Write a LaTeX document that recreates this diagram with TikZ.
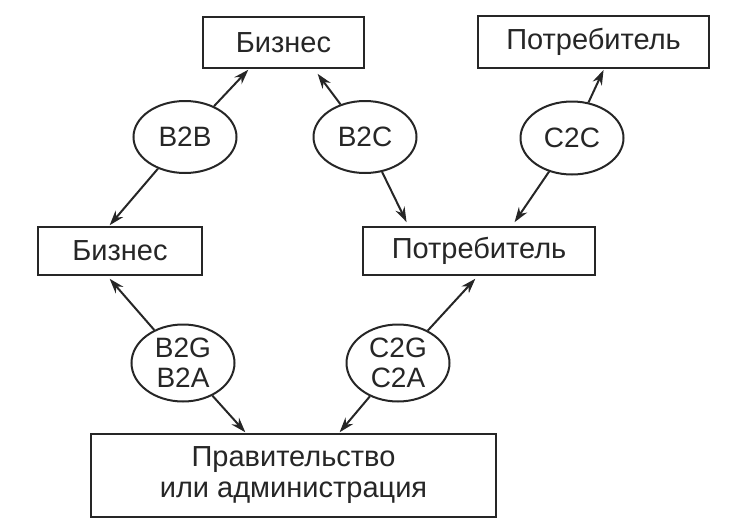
\documentclass[tikz,border=0pt]{standalone}
\usepackage{fontspec}
\setmainfont{Liberation Sans}
\usetikzlibrary{shapes.geometric,arrows.meta}
\definecolor{ink}{HTML}{262626}
\tikzset{
  box/.style={draw=ink, line width=2pt, fill=white, text=ink, inner sep=0pt, align=center,
              font=\fontsize{29}{31}\selectfont},
  oval/.style={draw=ink, line width=2pt, ellipse, inner sep=0pt, text=ink, align=center,
              font=\fontsize{28}{30}\selectfont},
  arr/.style={draw=ink, line width=2pt, -{Stealth[length=15pt,width=10pt]}, shorten >=1pt}
}
\begin{document}
\begin{tikzpicture}[x=1pt,y=-1pt]
\useasboundingbox (0,0) rectangle (747,528);
% boxes
\node[box, minimum width=161pt, minimum height=51pt] (biz1) at (283.5,42.5) {Бизнес};
\node[box, minimum width=231pt, minimum height=52pt] (cons1) at (593.5,42) {Потребитель};
\node[box, minimum width=164pt, minimum height=48pt] (biz2) at (120,251) {Бизнес};
\node[box, minimum width=232pt, minimum height=48pt] (cons2) at (479,251) {Потребитель};
\node[box, minimum width=405pt, minimum height=83pt] (gov) at (293.5,475.5) {Правительство\\или администрация};
% ovals
\node[oval, minimum width=103pt, minimum height=72pt] (b2b) at (185,137) {B2B};
\node[oval, minimum width=103pt, minimum height=72pt] (b2c) at (365,137) {B2C};
\node[oval, minimum width=103pt, minimum height=73pt] (c2c) at (572,138) {C2C};
\node[oval, minimum width=103pt, minimum height=77pt] (b2g) at (183,363) {B2G\\B2A};
\node[oval, minimum width=103pt, minimum height=77pt] (c2g) at (398,363) {C2G\\C2A};
% connectors
\draw[arr] (b2b) -- ([xshift=47pt]biz1.south west);
\draw[arr] (b2b) -- ([xshift=72pt]biz2.north west);
\draw[arr] (b2c) -- ([xshift=115pt,yshift=-4pt]biz1.south west);
\draw[arr] (b2c) -- ([xshift=45pt,yshift=3pt]cons2.north west);
\draw[arr] (c2c) -- ([xshift=127pt]cons1.south west);
\draw[arr] (c2c) -- ([xshift=152pt,yshift=3pt]cons2.north west);
\draw[arr] (b2g) -- ([xshift=72pt,yshift=-2pt]biz2.south west);
\draw[arr] (b2g) -- ([xshift=156pt]gov.north west);
\draw[arr] (c2g) -- ([xshift=114pt,yshift=-2pt]cons2.south west);
\draw[arr] (c2g) -- ([xshift=249pt]gov.north west);
\end{tikzpicture}
\end{document}
